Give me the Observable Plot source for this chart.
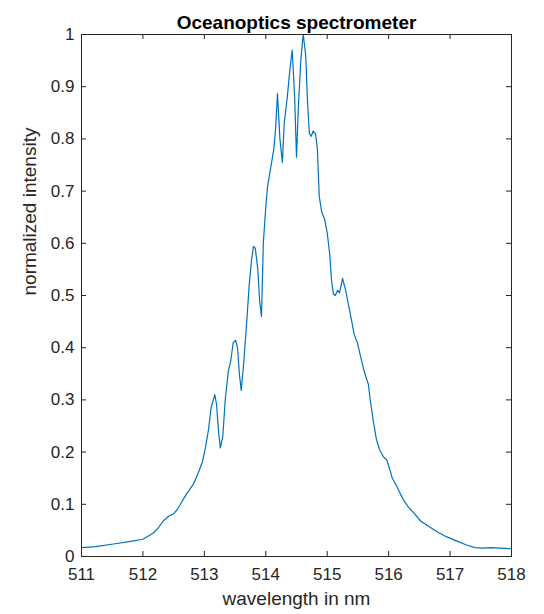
<!DOCTYPE html>
<html><head><meta charset="utf-8">
<script src="https://cdn.jsdelivr.net/npm/d3@7"></script>
<script src="https://cdn.jsdelivr.net/npm/@observablehq/plot@0.6"></script>
<style>body{margin:0;background:#fff;}</style>
</head><body><div id="chart"></div>
<script>
const wavelength = [511.00,511.23,511.52,511.80,512.00,512.17,512.25,512.33,512.42,512.50,512.56,512.61,512.71,512.82,512.90,512.97,513.02,513.07,513.11,513.17,513.20,513.23,513.26,513.30,513.34,513.39,513.43,513.47,513.51,513.54,513.57,513.60,513.64,513.69,513.73,513.77,513.80,513.83,513.87,513.90,513.93,513.96,514.00,514.03,514.08,514.13,514.16,514.19,514.23,514.27,514.30,514.35,514.39,514.43,514.47,514.50,514.53,514.57,514.60,514.61,514.65,514.68,514.71,514.74,514.77,514.81,514.84,514.87,514.91,514.96,515.00,515.04,515.07,515.10,515.13,515.17,515.20,515.25,515.30,515.35,515.40,515.44,515.49,515.54,515.59,515.64,515.67,515.70,515.75,515.80,515.85,515.92,515.97,516.01,516.06,516.13,516.19,516.26,516.32,516.42,516.52,516.65,516.78,516.94,517.10,517.27,517.40,517.53,517.66,517.82,518.00];
const intensity = [0.017,0.019,0.024,0.029,0.033,0.045,0.055,0.068,0.077,0.082,0.090,0.100,0.120,0.138,0.160,0.182,0.210,0.245,0.285,0.310,0.290,0.240,0.208,0.230,0.300,0.355,0.375,0.410,0.414,0.400,0.350,0.318,0.370,0.450,0.520,0.570,0.594,0.590,0.550,0.490,0.460,0.600,0.670,0.710,0.745,0.780,0.820,0.887,0.800,0.755,0.830,0.880,0.930,0.970,0.880,0.765,0.860,0.950,0.990,1.000,0.960,0.870,0.810,0.805,0.815,0.810,0.780,0.690,0.660,0.645,0.620,0.580,0.530,0.503,0.500,0.510,0.505,0.533,0.510,0.480,0.450,0.425,0.410,0.385,0.360,0.340,0.330,0.300,0.260,0.225,0.205,0.190,0.185,0.170,0.150,0.135,0.120,0.105,0.095,0.082,0.068,0.058,0.048,0.038,0.030,0.022,0.017,0.016,0.017,0.016,0.015];
const xTicks = [511,512,513,514,515,516,517,518];
const yTicks = [0,0.1,0.2,0.3,0.4,0.5,0.6,0.7,0.8,0.9,1];
const yTickLabels = ["0","0.1","0.2","0.3","0.4","0.5","0.6","0.7","0.8","0.9","1"];
const title = "Oceanoptics spectrometer";
const xLabel = "wavelength in nm";
const yLabel = "normalized intensity";

const data = wavelength.map((x, i) => ({x, y: intensity[i]}));
const W = 544, H = 614, mt = 34, mb = 58, ml = 81, mr = 33;
const innerH = H - mt - mb, innerW = W - ml - mr, tick = 5;
const axisColor = "#262626";

const plot = Plot.plot({
  width: W, height: H,
  marginTop: mt, marginBottom: mb, marginLeft: ml, marginRight: mr,
  style: {fontFamily: "'Liberation Sans', Arial, sans-serif", background: "#fff", color: axisColor},
  x: {domain: [511, 518]},
  y: {domain: [0, 1]},
  marks: [
    Plot.line(data, {x: "x", y: "y", stroke: "#0072BD", strokeWidth: 1.2}),
    Plot.frame({stroke: axisColor}),
    Plot.tickX(xTicks, {x: d => d, insetTop: innerH - tick, stroke: axisColor}),
    Plot.tickX(xTicks, {x: d => d, insetBottom: innerH - tick, stroke: axisColor}),
    Plot.tickY(yTicks, {y: d => d, insetRight: innerW - tick, stroke: axisColor}),
    Plot.tickY(yTicks, {y: d => d, insetLeft: innerW - tick, stroke: axisColor}),
    Plot.axisX(xTicks, {tickSize: 0, tickPadding: 11, fontSize: 17, fill: axisColor, label: null}),
    Plot.axisY(yTicks, {tickSize: 0, tickPadding: 7, fontSize: 17, fill: axisColor, label: null,
      tickFormat: d => yTickLabels[yTicks.indexOf(d)]}),
    Plot.text([title], {frameAnchor: "top", dy: -19, fontWeight: "bold", fontSize: 19, fill: "#000"}),
    Plot.text([xLabel], {frameAnchor: "bottom", dy: 48, fontSize: 19, fill: axisColor}),
    Plot.text([yLabel], {frameAnchor: "left", dx: -52, rotate: -90, fontSize: 19, fill: axisColor})
  ]
});
document.getElementById("chart").appendChild(plot);
</script>
</body></html>
